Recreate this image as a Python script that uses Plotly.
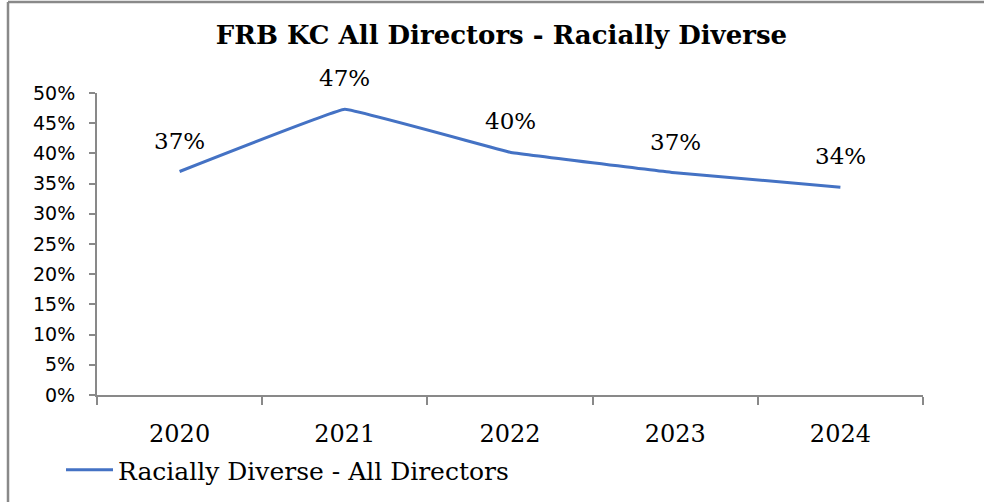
import plotly.graph_objects as go

years = ["2020", "2021", "2022", "2023", "2024"]
racially_diverse = [0.370, 0.473, 0.402, 0.368, 0.344]
series_name = "Racially Diverse - All Directors"
title_text = "FRB KC All Directors - Racially Diverse"
y_ticks = [0, 0.05, 0.10, 0.15, 0.20, 0.25, 0.30, 0.35, 0.40, 0.45, 0.50]

SERIF = "Georgia, 'DejaVu Serif', serif"
SANS = "Verdana, 'DejaVu Sans', sans-serif"
GREY = "#898989"
BLUE = "#4472C4"

W, H = 984, 502
L, R, T, B = 97, 61, 93, 107

fig = go.Figure()
fig.add_trace(go.Scatter(
    x=years, y=racially_diverse, mode="lines", name=series_name,
    line=dict(color=BLUE, width=3, shape="spline", smoothing=0.15),
    hoverinfo="skip",
))

for i, yv in enumerate(racially_diverse):
    fig.add_annotation(x=i, y=yv, xref="x", yref="y", text=f"{round(yv*100)}%",
                       showarrow=False, yshift=31,
                       font=dict(family=SERIF, size=23, color="black"))

pw = W - L - R
ph = H - T - B
def px_x(p):
    return (p - L) / pw
def px_y(p):
    return (H - B - p) / ph

# outer chart border (top and left visible)
fig.add_shape(type="line", xref="paper", yref="paper",
              x0=px_x(8), x1=px_x(990), y0=px_y(2), y1=px_y(2),
              line=dict(color=GREY, width=2.5))
fig.add_shape(type="line", xref="paper", yref="paper",
              x0=px_x(8), x1=px_x(8), y0=px_y(2), y1=px_y(510),
              line=dict(color=GREY, width=2.5))

fig.update_layout(
    width=W, height=H,
    margin=dict(l=L, r=R, t=T, b=B, autoexpand=False),
    paper_bgcolor="white", plot_bgcolor="white",
    title=dict(text=f"<b>{title_text}</b>", x=501.5 / W, xanchor="center",
               y=1 - 35 / H, yanchor="middle", yref="container",
               font=dict(family=SERIF, size=26, color="black")),
    showlegend=True,
    legend=dict(x=px_x(61), y=px_y(470), xanchor="left", yanchor="middle",
                orientation="h", font=dict(family=SERIF, size=25, color="black"),
                bgcolor="rgba(0,0,0,0)", itemwidth=47),
    xaxis=dict(type="category", range=[-0.5, 4.5], showline=True, linecolor=GREY,
               linewidth=2, ticks="outside", tickson="boundaries", ticklen=8,
               tickcolor=GREY, tickwidth=2, showgrid=False, zeroline=False,
               tickfont=dict(family=SERIF, size=24, color="black"),
               ticklabelstandoff=16, fixedrange=True),
    yaxis=dict(range=[0, 0.5], tickvals=y_ticks, tickformat=".0%", showline=True,
               linecolor=GREY, linewidth=2, ticks="outside", ticklen=6,
               tickcolor=GREY, tickwidth=2, showgrid=False, zeroline=False,
               tickfont=dict(family=SANS, size=19, color="black"),
               ticklabelstandoff=10, fixedrange=True),
)

fig.write_html("out.html", config={"displayModeBar": False},
               post_script="document.body.style.margin='0px';")
